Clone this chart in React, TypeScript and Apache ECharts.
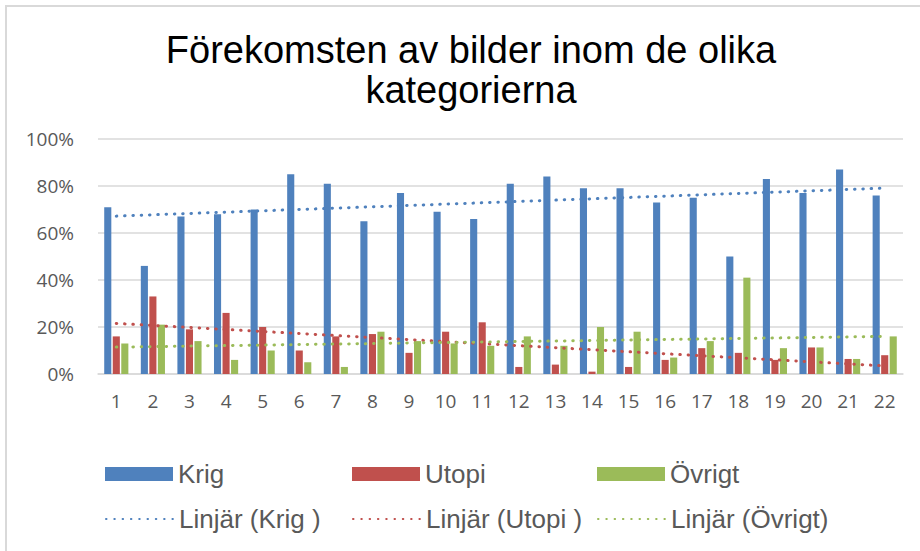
import React, { useEffect, useRef } from "react";
import * as echarts from "echarts";

const categories = ["1","2","3","4","5","6","7","8","9","10","11","12","13","14","15","16","17","18","19","20","21","22"];
const krig = [71, 46, 67, 68, 70, 85, 81, 65, 77, 69, 66, 81, 84, 79, 79, 73, 75, 50, 83, 77, 87, 76];
const utopi = [16, 33, 19, 26, 20, 10, 16, 17, 9, 18, 22, 3, 4, 1, 3, 6, 11, 9, 6, 11.3, 6.4, 8];
const ovrigt = [13, 21, 14, 6, 10, 5, 3, 18, 14, 13, 12, 16, 12, 20, 18, 7, 14, 41, 11, 11.3, 6.4, 16];
const yTicks = [0, 20, 40, 60, 80, 100];

const titleText = "Förekomsten av bilder inom de olika\nkategorierna";
const seriesNames = ["Krig", "Utopi", "Övrigt"];
const trendNames = ["Linjär (Krig )", "Linjär (Utopi )", "Linjär (Övrigt)"];
const colors = ["#4F81BD", "#C0504D", "#9BBB59"];

function linearTrend(values: number[]): number[] {
  const n = values.length;
  const xs = values.map((_, i) => i + 1);
  const mx = xs.reduce((a, b) => a + b, 0) / n;
  const my = values.reduce((a, b) => a + b, 0) / n;
  let sxy = 0;
  let sxx = 0;
  for (let i = 0; i < n; i++) {
    sxy += (xs[i] - mx) * (values[i] - my);
    sxx += (xs[i] - mx) * (xs[i] - mx);
  }
  const slope = sxy / sxx;
  const icpt = my - slope * mx;
  return xs.map((x) => +(icpt + slope * x).toFixed(4));
}

export default function App() {
  const ref = useRef<HTMLDivElement>(null);
  useEffect(() => {
    if (!ref.current) return;
    const chart = echarts.init(ref.current, undefined, { renderer: "svg" });
    const data = [krig, utopi, ovrigt];
    const legendFont = { fontFamily: "Liberation Sans, Arial, sans-serif", fontSize: 26, color: "#595959" };
    const colX = [105, 352, 597];
    const legends: any[] = [];
    for (let i = 0; i < 3; i++) {
      legends.push({
        data: [seriesNames[i]],
        left: colX[i],
        top: 461,
        padding: 0,
        itemWidth: 68,
        itemHeight: 14,
        itemGap: 8,
        icon: "rect",
        textStyle: legendFont,
        selectedMode: false,
      });
      legends.push({
        data: [trendNames[i]],
        left: colX[i],
        top: 506,
        padding: 0,
        itemWidth: 68,
        itemHeight: 14,
        itemGap: 8,
        itemStyle: { opacity: 0 },
        textStyle: legendFont,
        selectedMode: false,
      });
    }
    const series: any[] = [];
    for (let i = 0; i < 3; i++) {
      series.push({
        name: seriesNames[i],
        type: "bar",
        data: data[i],
        itemStyle: { color: colors[i] },
        barGap: "20%",
        barCategoryGap: "34%",
      });
    }
    for (let i = 0; i < 3; i++) {
      series.push({
        name: trendNames[i],
        type: "line",
        data: linearTrend(data[i]),
        symbol: "none",
        itemStyle: { color: colors[i] },
        lineStyle: { color: colors[i], width: 3, type: [0.5, 7.8], cap: "round" },
        z: 5,
      });
    }
    chart.setOption({
      animation: false,
      color: colors,
      title: {
        text: titleText,
        left: 466,
        textAlign: "center",
        top: 25,
        textStyle: {
          fontFamily: "Liberation Sans, Arial, sans-serif",
          fontSize: 38,
          fontWeight: "normal",
          color: "#000000",
          lineHeight: 40,
        },
      },
      graphic: [
        {
          type: "rect",
          shape: { x: 6, y: 6, width: 960, height: 600 },
          style: { fill: "none", stroke: "#d9d9d9", lineWidth: 2 },
          silent: true,
        },
      ],
      legend: legends,
      grid: { left: 98, right: 17, top: 139, bottom: 177, containLabel: false },
      xAxis: {
        type: "category",
        data: categories,
        axisLine: { lineStyle: { color: "#d9d9d9", width: 1.5 } },
        axisTick: { show: false },
        axisLabel: {
          fontFamily: "Open Sans, sans-serif",
          fontSize: 19,
          color: "#595959",
          margin: 17,
          interval: 0,
        },
      },
      yAxis: {
        type: "value",
        min: yTicks[0],
        max: yTicks[yTicks.length - 1],
        interval: 20,
        axisLine: { show: false },
        axisTick: { show: false },
        splitLine: { lineStyle: { color: "#d9d9d9", width: 1.5 } },
        axisLabel: {
          formatter: "{value}%",
          fontFamily: "Open Sans, sans-serif",
          fontSize: 19,
          color: "#595959",
          margin: 24,
        },
      },
      series,
    });
    return () => chart.dispose();
  }, []);
  return (
    <div
      ref={ref}
      style={{ position: "fixed", left: 0, top: 0, width: 920, height: 551, background: "#ffffff" }}
    />
  );
}
